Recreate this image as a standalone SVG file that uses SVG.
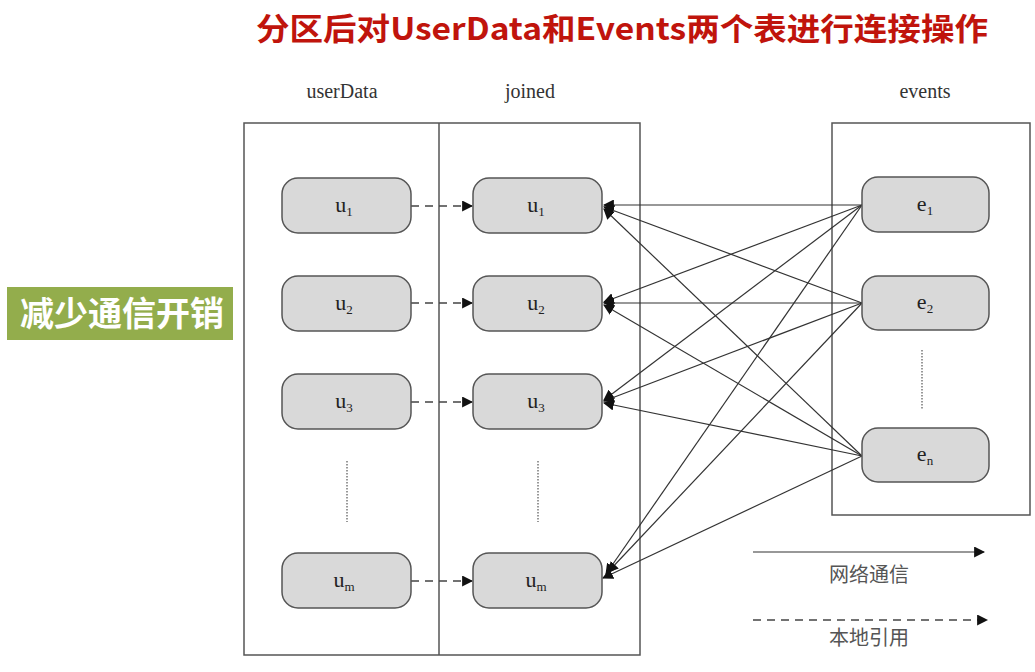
<svg xmlns="http://www.w3.org/2000/svg" width="1035" height="672" viewBox="0 0 1035 672">
  <style>
    .frame { fill: none; stroke: #555; stroke-width: 1.5; }
    .node rect { fill: #d9d9d9; stroke: #555; stroke-width: 1.5; }
    .lbl { font-family: "Liberation Serif", "DejaVu Serif", serif; font-size: 22px; fill: #222; text-anchor: middle; }
    .sub { font-size: 13px; }
    .hdr { font-family: "Liberation Serif", "DejaVu Serif", serif; font-size: 20px; fill: #333; text-anchor: middle; }
    .net { stroke: #333; stroke-width: 1.2; fill: none; marker-end: url(#arrow); }
    .loc { stroke: #444; stroke-width: 1.5; fill: none; stroke-dasharray: 8 6; marker-end: url(#arrow); }
    .dots { stroke: #777; stroke-width: 1.5; stroke-dasharray: 1.5 1.5; }
    .cjk { font-family: "Noto Sans CJK SC", "Noto Sans", sans-serif; }
  </style>
  <defs>
    <marker id="arrow" viewBox="0 0 10 10" refX="9" refY="5" markerWidth="11" markerHeight="11" markerUnits="userSpaceOnUse" orient="auto">
      <path d="M0,0 L10,5 L0,10 z" fill="#111"/>
    </marker>
  </defs>
  <rect width="1035" height="672" fill="#fff"/>

  <!-- title -->
  <text x="622" y="40" class="cjk" font-size="31" font-weight="bold" fill="#c0140c" text-anchor="middle" textLength="732" lengthAdjust="spacingAndGlyphs">分区后对UserData和Events两个表进行连接操作</text>

  <!-- side badge -->
  <g id="badge">
    <rect x="7" y="287" width="226" height="53" fill="#93ad4c"/>
    <text x="122" y="326" class="cjk" font-size="34" font-weight="bold" fill="#fff" text-anchor="middle">减少通信开销</text>
  </g>

  <!-- column headers -->
  <text x="342" y="98" class="hdr">userData</text>
  <text x="530" y="98" class="hdr">joined</text>
  <text x="925" y="98" class="hdr">events</text>

  <!-- partition frames -->
  <g id="frames">
    <rect x="244" y="123" width="396" height="532" class="frame"/>
    <line x1="439" y1="123" x2="439" y2="655" class="frame"/>
    <rect x="832" y="123" width="198" height="392" class="frame"/>
  </g>

  <!-- ellipsis markers -->
  <g id="ellipses">
    <line x1="347" y1="461" x2="347" y2="522" class="dots"/>
    <line x1="538" y1="461" x2="538" y2="522" class="dots"/>
    <line x1="922" y1="350" x2="922" y2="410" class="dots"/>
  </g>

  <!-- connectors -->
  <g id="connectors">
    <!-- local references -->
    <line x1="411" y1="206" x2="472" y2="206" class="loc"/>
    <line x1="411" y1="303" x2="472" y2="303" class="loc"/>
    <line x1="411" y1="402" x2="472" y2="402" class="loc"/>
    <line x1="411" y1="581" x2="472" y2="581" class="loc"/>
    <!-- network traffic from e1 -->
    <line x1="862" y1="205" x2="604" y2="205" class="net"/>
    <line x1="862" y1="205" x2="604" y2="302" class="net"/>
    <line x1="862" y1="205" x2="604" y2="400" class="net"/>
    <line x1="862" y1="205" x2="606" y2="574" class="net"/>
    <!-- network traffic from e2 -->
    <line x1="862" y1="303" x2="604" y2="207" class="net"/>
    <line x1="862" y1="303" x2="604" y2="303" class="net"/>
    <line x1="862" y1="303" x2="604" y2="401" class="net"/>
    <line x1="862" y1="303" x2="608" y2="572" class="net"/>
    <!-- network traffic from en -->
    <line x1="862" y1="456" x2="604" y2="209" class="net"/>
    <line x1="862" y1="456" x2="604" y2="305" class="net"/>
    <line x1="862" y1="456" x2="604" y2="403" class="net"/>
    <line x1="862" y1="456" x2="603" y2="578" class="net"/>
  </g>

  <!-- userData partitions -->
  <g id="ud-u1" class="node"><rect x="282" y="178" width="129" height="55" rx="16"/><text x="344" y="212" class="lbl">u<tspan class="sub" dy="4">1</tspan></text></g>
  <g id="ud-u2" class="node"><rect x="282" y="276" width="129" height="55" rx="16"/><text x="344" y="310" class="lbl">u<tspan class="sub" dy="4">2</tspan></text></g>
  <g id="ud-u3" class="node"><rect x="282" y="374" width="129" height="55" rx="16"/><text x="344" y="408" class="lbl">u<tspan class="sub" dy="4">3</tspan></text></g>
  <g id="ud-um" class="node"><rect x="282" y="553" width="129" height="55" rx="16"/><text x="344" y="587" class="lbl">u<tspan class="sub" dy="4">m</tspan></text></g>

  <!-- joined partitions -->
  <g id="jn-u1" class="node"><rect x="473" y="178" width="129" height="55" rx="16"/><text x="536" y="212" class="lbl">u<tspan class="sub" dy="4">1</tspan></text></g>
  <g id="jn-u2" class="node"><rect x="473" y="276" width="129" height="55" rx="16"/><text x="536" y="310" class="lbl">u<tspan class="sub" dy="4">2</tspan></text></g>
  <g id="jn-u3" class="node"><rect x="473" y="374" width="129" height="55" rx="16"/><text x="536" y="408" class="lbl">u<tspan class="sub" dy="4">3</tspan></text></g>
  <g id="jn-um" class="node"><rect x="473" y="553" width="129" height="55" rx="16"/><text x="536" y="587" class="lbl">u<tspan class="sub" dy="4">m</tspan></text></g>

  <!-- events partitions -->
  <g id="ev-e1" class="node"><rect x="862" y="177" width="127" height="55" rx="16"/><text x="925" y="211" class="lbl">e<tspan class="sub" dy="4">1</tspan></text></g>
  <g id="ev-e2" class="node"><rect x="862" y="276" width="127" height="54" rx="16"/><text x="925" y="309" class="lbl">e<tspan class="sub" dy="4">2</tspan></text></g>
  <g id="ev-en" class="node"><rect x="862" y="428" width="127" height="54" rx="16"/><text x="925" y="461" class="lbl">e<tspan class="sub" dy="4">n</tspan></text></g>

  <!-- legend -->
  <g id="legend">
    <line x1="753" y1="552" x2="984" y2="552" class="net" stroke-width="1.5"/>
    <text x="869" y="582" class="cjk" font-size="20" fill="#555" text-anchor="middle">网络通信</text>
    <line x1="753" y1="620" x2="987" y2="620" class="loc"/>
    <text x="869" y="645" class="cjk" font-size="20" fill="#555" text-anchor="middle">本地引用</text>
  </g>
</svg>
